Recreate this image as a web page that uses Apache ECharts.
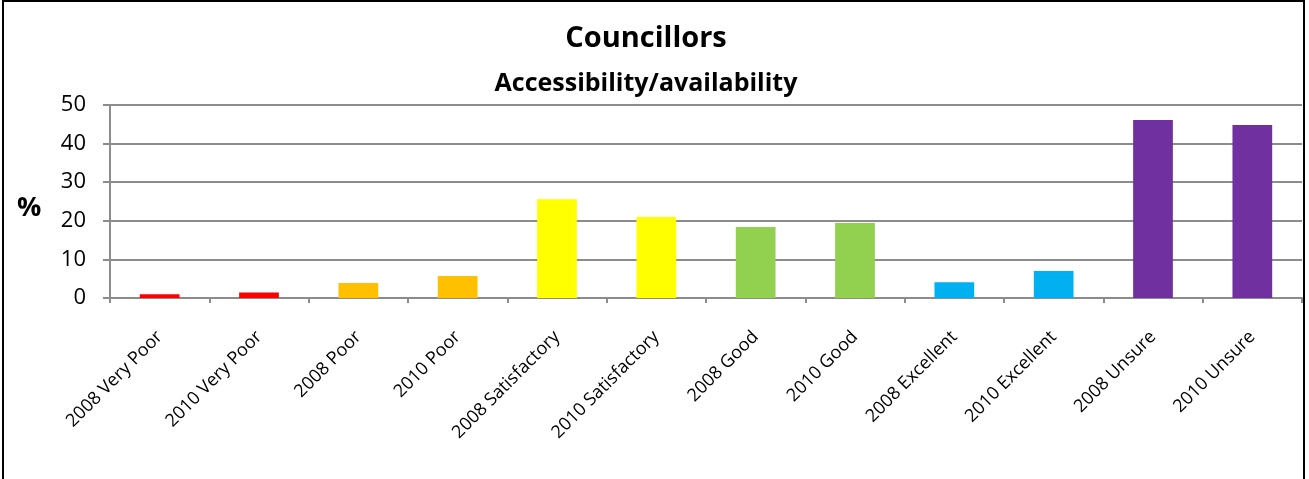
<!DOCTYPE html>
<html>
<head>
<meta charset="utf-8">
<style>
  html, body { margin: 0; padding: 0; background: #fff; }
  #chart { width: 1309px; height: 479px; }
</style>
<script src="https://cdn.jsdelivr.net/npm/echarts@6/dist/echarts.min.js"></script>
</head>
<body>
<div id="chart"></div>
<script>
// categories and values
var categories = [
  '2008 Very Poor', '2010 Very Poor', '2008 Poor', '2010 Poor',
  '2008 Satisfactory', '2010 Satisfactory', '2008 Good', '2010 Good',
  '2008 Excellent', '2010 Excellent', '2008 Unsure', '2010 Unsure'
];
var values = [1.0, 1.4, 3.9, 5.7, 25.6, 21.0, 18.4, 19.4, 4.1, 7.0, 46.1, 44.8];
var barColors = [
  '#ff0000', '#ff0000', '#ffc000', '#ffc000',
  '#ffff00', '#ffff00', '#92d050', '#92d050',
  '#00b0f0', '#00b0f0', '#7030a0', '#7030a0'
];
var yTicks = [0, 10, 20, 30, 40, 50];

var font = '"Open Sans", "Liberation Sans", sans-serif';
var chart = echarts.init(document.getElementById('chart'));

var option = {
  animation: false,
  title: [
    {
      text: 'Councillors',
      left: 641, top: 19, textAlign: 'center',
      textStyle: { fontFamily: font, fontSize: 29, fontWeight: 'bold', color: '#000' }
    },
    {
      text: 'Accessibility/availability',
      left: 641, top: 66, textAlign: 'center',
      textStyle: { fontFamily: font, fontSize: 25, fontWeight: 'bold', color: '#000' }
    },
    {
      text: '%',
      left: 12, top: 190,
      textStyle: { fontFamily: font, fontSize: 27, fontWeight: 'bold', color: '#000' }
    }
  ],
  graphic: [
    {
      type: 'rect',
      shape: { x: 3, y: 1, width: 1301, height: 500 },
      style: { fill: 'none', stroke: '#000', lineWidth: 2 },
      silent: true
    }
  ],
  grid: { left: 110, right: 7, top: 105, bottom: 181 },
  xAxis: {
    type: 'category',
    data: categories,
    axisLine: { lineStyle: { color: '#8c8c8c', width: 2 } },
    axisTick: { show: true, length: 5, alignWithLabel: false, lineStyle: { color: '#8c8c8c', width: 2 } },
    axisLabel: {
      interval: 0,
      rotate: 45,
      margin: 36,
      fontFamily: font,
      fontSize: 18,
      color: '#000'
    }
  },
  yAxis: {
    type: 'value',
    min: yTicks[0],
    max: yTicks[yTicks.length - 1],
    interval: 10,
    axisLine: { show: true, lineStyle: { color: '#8c8c8c', width: 2 } },
    axisTick: { show: true, length: 7, lineStyle: { color: '#8c8c8c', width: 2 } },
    splitLine: { show: true, lineStyle: { color: '#8c8c8c', width: 2 } },
    axisLabel: {
      margin: 24,
      fontFamily: font,
      fontSize: 22,
      color: '#000'
    }
  },
  series: [
    {
      type: 'bar',
      barWidth: '40%',
      data: values.map(function (v, i) {
        return { value: v, itemStyle: { color: barColors[i] } };
      })
    }
  ]
};
chart.setOption(option);
</script>
</body>
</html>
